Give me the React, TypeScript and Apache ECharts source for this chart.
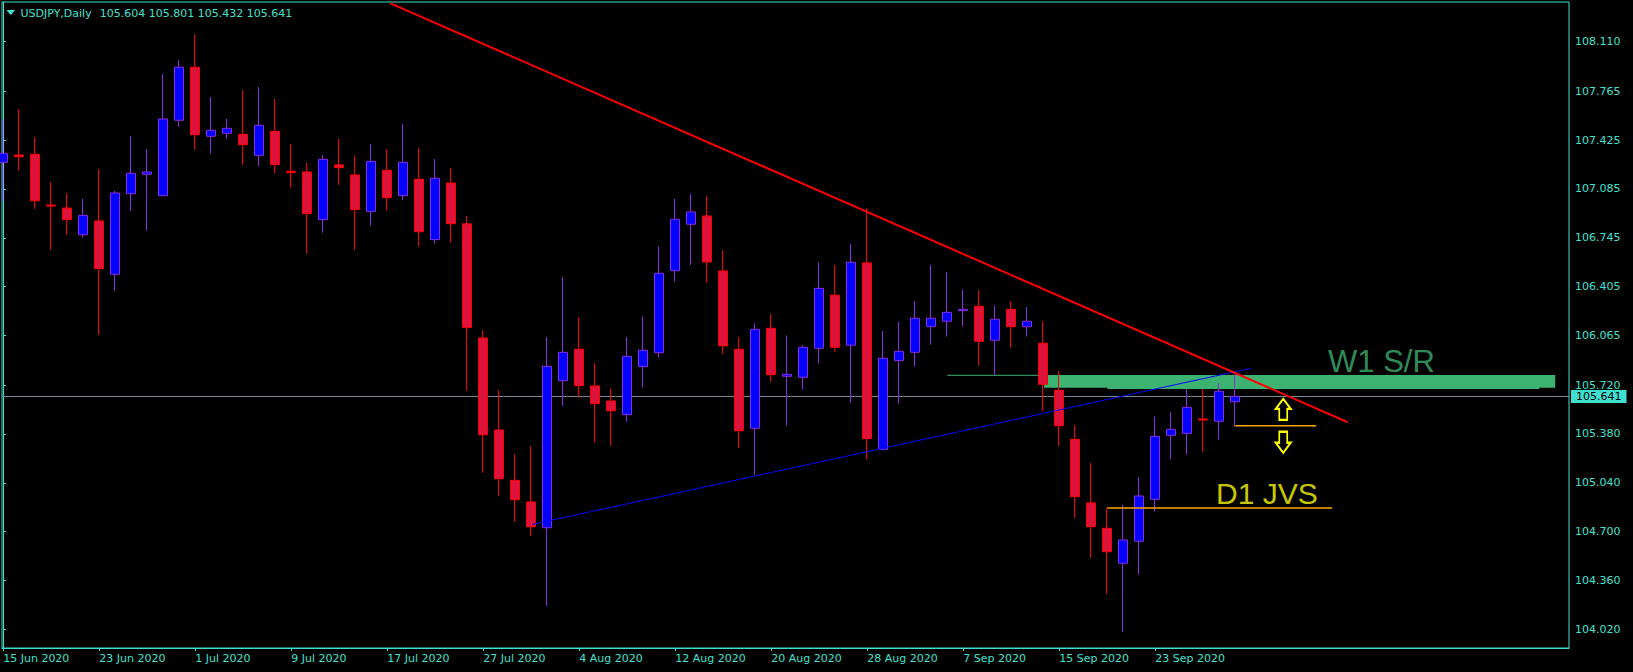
import React, { useEffect, useRef } from "react";
import * as echarts from "echarts";

// ---- data ----
const dates = [
  "15 Jun 2020", "16 Jun 2020", "17 Jun 2020", "18 Jun 2020", "19 Jun 2020",
  "22 Jun 2020", "23 Jun 2020", "24 Jun 2020", "25 Jun 2020", "26 Jun 2020",
  "29 Jun 2020", "30 Jun 2020",
  "1 Jul 2020", "2 Jul 2020", "3 Jul 2020", "6 Jul 2020", "7 Jul 2020", "8 Jul 2020",
  "9 Jul 2020", "10 Jul 2020", "13 Jul 2020", "14 Jul 2020", "15 Jul 2020", "16 Jul 2020",
  "17 Jul 2020", "20 Jul 2020", "21 Jul 2020", "22 Jul 2020", "23 Jul 2020", "24 Jul 2020",
  "27 Jul 2020", "28 Jul 2020", "29 Jul 2020", "30 Jul 2020", "31 Jul 2020",
  "3 Aug 2020", "4 Aug 2020", "5 Aug 2020", "6 Aug 2020", "7 Aug 2020", "10 Aug 2020",
  "11 Aug 2020", "12 Aug 2020", "13 Aug 2020", "14 Aug 2020", "17 Aug 2020", "18 Aug 2020",
  "19 Aug 2020", "20 Aug 2020", "21 Aug 2020", "24 Aug 2020", "25 Aug 2020", "26 Aug 2020",
  "27 Aug 2020", "28 Aug 2020", "31 Aug 2020",
  "1 Sep 2020", "2 Sep 2020", "3 Sep 2020", "4 Sep 2020", "7 Sep 2020", "8 Sep 2020",
  "9 Sep 2020", "10 Sep 2020", "11 Sep 2020", "14 Sep 2020", "15 Sep 2020", "16 Sep 2020",
  "17 Sep 2020", "18 Sep 2020", "21 Sep 2020", "22 Sep 2020", "23 Sep 2020", "24 Sep 2020",
  "25 Sep 2020", "28 Sep 2020", "29 Sep 2020", "30 Sep 2020",
];

const opens = [
  107.270, 107.321, 107.326, 106.973, 106.952, 106.766, 106.862, 106.491, 107.052, 107.187,
  107.038, 107.563, 107.932, 107.451, 107.472, 107.465, 107.319, 107.486, 107.208, 107.203,
  106.871, 107.252, 107.182, 106.929, 107.215, 107.038, 107.152, 106.732, 107.126, 106.842,
  106.047, 105.407, 105.057, 104.906, 104.727, 105.750, 105.969, 105.714, 105.609, 105.514,
  105.848, 105.945, 106.516, 106.839, 106.897, 106.514, 105.969, 105.419, 106.115, 105.781,
  105.774, 105.976, 106.345, 105.997, 106.570, 105.273, 105.890, 105.948, 106.126, 106.164,
  106.238, 106.268, 106.032, 106.247, 106.126, 106.011, 105.684, 105.342, 104.900, 104.723,
  104.480, 104.633, 104.925, 105.370, 105.384, 105.484, 105.468, 105.604,
];
const highs = [
  107.572, 107.641, 107.446, 107.133, 107.057, 107.015, 107.224, 107.071, 107.453, 107.363,
  107.885, 107.982, 108.163, 107.725, 107.572, 107.774, 107.794, 107.711, 107.398, 107.266,
  107.321, 107.433, 107.316, 107.398, 107.363, 107.537, 107.370, 107.293, 107.231, 106.897,
  106.103, 105.684, 105.240, 105.296, 106.054, 106.470, 106.192, 105.871, 105.697, 106.054,
  106.199, 106.688, 107.015, 107.050, 107.036, 106.660, 106.054, 106.150, 106.213, 106.066,
  105.997, 106.576, 106.556, 106.702, 106.950, 106.096, 106.159, 106.305, 106.556, 106.507,
  106.387, 106.382, 106.275, 106.305, 106.263, 106.166, 105.818, 105.442, 105.178, 104.864,
  104.885, 105.080, 105.500, 105.532, 105.693, 105.693, 105.734, 105.801,
];
const lows = [
  106.996, 107.212, 106.945, 106.660, 106.764, 106.746, 106.068, 106.377, 106.931, 106.794,
  107.036, 107.518, 107.358, 107.330, 107.435, 107.254, 107.243, 107.196, 107.094, 106.634,
  106.780, 107.112, 106.662, 106.829, 106.934, 107.008, 106.683, 106.704, 106.711, 105.679,
  105.110, 104.950, 104.769, 104.672, 104.184, 105.576, 105.632, 105.319, 105.298, 105.465,
  105.702, 105.910, 106.439, 106.556, 106.432, 105.938, 105.280, 105.094, 105.743, 105.437,
  105.688, 105.869, 105.952, 105.597, 105.203, 105.268, 105.590, 105.848, 106.001, 106.057,
  106.126, 105.855, 105.790, 105.980, 106.057, 105.539, 105.296, 104.797, 104.518, 104.266,
  104.000, 104.400, 104.841, 105.203, 105.235, 105.256, 105.340, 105.432,
];
const closes = [
  107.333, 107.309, 107.003, 106.966, 106.871, 106.901, 106.530, 107.057, 107.194, 107.203,
  107.572, 107.932, 107.462, 107.493, 107.507, 107.393, 107.528, 107.254, 107.198, 106.913,
  107.291, 107.233, 106.941, 107.277, 107.024, 107.270, 106.787, 107.159, 106.843, 106.120,
  105.374, 105.068, 104.922, 104.734, 105.850, 105.948, 105.716, 105.590, 105.541, 105.920,
  105.962, 106.498, 106.874, 106.925, 106.577, 105.994, 105.402, 106.108, 105.792, 105.795,
  105.983, 106.393, 105.983, 106.574, 105.347, 105.906, 105.955, 106.185, 106.185, 106.226,
  106.247, 106.025, 106.178, 106.126, 106.164, 105.725, 105.437, 104.943, 104.734, 104.560,
  104.642, 104.948, 105.363, 105.412, 105.565, 105.477, 105.677, 105.641,
];

const xTickDates = [
  "15 Jun 2020", "23 Jun 2020", "1 Jul 2020", "9 Jul 2020", "17 Jul 2020", "27 Jul 2020",
  "4 Aug 2020", "12 Aug 2020", "20 Aug 2020", "28 Aug 2020", "7 Sep 2020", "15 Sep 2020",
  "23 Sep 2020",
];
const yTickLabels = [
  "104.020", "104.360", "104.700", "105.040", "105.380", "105.720", "106.065",
  "106.405", "106.745", "107.085", "107.425", "107.765", "108.110",
];

// annotations (bar index, price)
const redTrend = [[24.2, 108.377], [84.03, 105.461]];
const blueTrend = [[33.06, 104.75], [77.99, 105.837]];
const srGuide = [[59.0, 105.788], [65.05, 105.788]];
const srZones = [
  [65.05, 97.0, 105.702, 105.79],
  [69.0, 96.0, 105.693, 105.79],
];
const jvsLine = [[69.0, 104.864], [83.06, 104.864]];
const lowLine = [[77.0, 105.437], [82.05, 105.437]];
const upArrow = [80.0, 105.551];
const downArrow = [80.0, 105.322];
const srLabel = { text: "W1 S/R", at: [82.8, 105.885] };
const jvsLabel = { text: "D1 JVS", at: [75.8, 104.967] };

const xRange = [-0.075, 97.86];
const yRange = [103.89, 108.386];

const FG = "#40E0D0";
const FONT = "DejaVu Sans";

export default function App() {
  const ref = useRef<HTMLDivElement>(null);

  useEffect(() => {
    document.body.style.margin = "0";
    document.body.style.background = "#000";
    const chart = echarts.init(ref.current!, null, { renderer: "svg" });
    const last = dates.length - 1;
    const xTickIdx = xTickDates.map((d) => dates.indexOf(d));
    const yTickVals = yTickLabels.map(Number);
    const titleValues = [opens[last], highs[last], lows[last], closes[last]]
      .map((v) => v.toFixed(3))
      .join(" ");

    const upPath = "path://M8.5,0 L17,11 L13,11 L13,23 L4,23 L4,11 L0,11 Z";
    const downPath = "path://M4,0 L13,0 L13,12 L17,12 L8.5,23 L0,12 L4,12 Z";

    const option: any = {
      animation: false,
      backgroundColor: "#000000",
      grid: {
        left: 2,
        top: 2,
        right: 64,
        bottom: 24,
        show: true,
        borderColor: FG,
        borderWidth: 1,
        backgroundColor: "transparent",
        outerBoundsMode: "none",
      },
      xAxis: {
        type: "value",
        min: xRange[0],
        max: xRange[1],
        splitLine: { show: false },
        axisLine: { show: true, lineStyle: { color: FG, width: 1 } },
        axisTick: { show: true, customValues: xTickIdx, length: 3, lineStyle: { color: FG } },
        axisLabel: {
          customValues: xTickIdx,
          formatter: (v: number) => dates[Math.round(v)] ?? "",
          color: FG,
          fontFamily: FONT,
          fontSize: 11,
          align: "left",
          margin: 5,
        },
      },
      yAxis: {
        type: "value",
        position: "right",
        min: yRange[0],
        max: yRange[1],
        splitLine: { show: false },
        axisLine: { show: true, lineStyle: { color: FG, width: 1 } },
        axisTick: { show: true, customValues: yTickVals, length: 3, lineStyle: { color: FG } },
        axisLabel: {
          customValues: yTickVals,
          formatter: (v: number) => v.toFixed(3),
          color: FG,
          fontFamily: FONT,
          fontSize: 11,
          margin: 6,
        },
      },
      graphic: [
        {
          type: "polygon",
          shape: { points: [[6.5, 10], [15, 10], [10.75, 15.3]] },
          style: { fill: FG },
        },
        {
          type: "text",
          x: 20.5,
          y: 13,
          style: { text: "USDJPY,Daily", fill: FG, fontSize: 11, fontFamily: FONT, verticalAlign: "middle" },
        },
        {
          type: "text",
          x: 99.8,
          y: 13,
          style: { text: titleValues, fill: FG, fontSize: 11, fontFamily: FONT, verticalAlign: "middle" },
        },
      ],
      series: [
        {
          type: "custom",
          z: 1,
          silent: true,
          data: srZones,
          encode: { x: [0, 1], y: [2, 3] },
          renderItem: (_p: any, api: any) => {
            const a = api.coord([api.value(0), api.value(3)]);
            const b = api.coord([api.value(1), api.value(2)]);
            return {
              type: "rect",
              shape: { x: a[0], y: a[1], width: b[0] - a[0], height: b[1] - a[1] },
              style: { fill: "#3CB371" },
            };
          },
        },
        {
          type: "line",
          z: 1,
          silent: true,
          data: srGuide,
          symbol: "none",
          lineStyle: { color: "#3CB371", width: 1 },
          markLine: {
            z: 1,
            silent: true,
            symbol: ["none", "none"],
            data: [{ yAxis: closes[last] }],
            lineStyle: { color: "#778899", width: 1, type: "solid" },
            label: {
              show: true,
              position: "end",
              formatter: closes[last].toFixed(3),
              color: "#000000",
              backgroundColor: FG,
              padding: [1, 5, 1, 5],
              fontFamily: FONT,
              fontSize: 11,
              distance: 2,
            },
            emphasis: { disabled: true },
          },
        },
        {
          type: "candlestick",
          z: 3,
          silent: true,
          barWidth: 10,
          data: dates.map((_, i) => [i, opens[i], closes[i], lows[i], highs[i]]),
          itemStyle: {
            color: "#0000FF",
            color0: "#DC143C",
            borderColor: "#8A2BE2",
            borderColor0: "#FF0000",
            borderWidth: 1,
          },
        },
        {
          type: "line",
          z: 4,
          silent: true,
          data: blueTrend,
          symbol: "none",
          lineStyle: { color: "#0000FF", width: 1 },
        },
        {
          type: "line",
          z: 4,
          silent: true,
          data: redTrend,
          symbol: "none",
          lineStyle: { color: "#FF0000", width: 2 },
        },
        {
          type: "line",
          z: 4,
          silent: true,
          data: jvsLine,
          symbol: "none",
          lineStyle: { color: "#FFA500", width: 1.5 },
        },
        {
          type: "line",
          z: 4,
          silent: true,
          data: lowLine,
          symbol: "none",
          lineStyle: { color: "#FFA500", width: 1.5 },
        },
        {
          type: "scatter",
          z: 5,
          silent: true,
          data: [
            { value: upArrow, symbol: upPath },
            { value: downArrow, symbol: downPath },
          ],
          symbolSize: [15, 21],
          itemStyle: { color: "#000000", borderColor: "#FFFF00", borderWidth: 2, opacity: 1 },
        },
        {
          type: "scatter",
          z: 5,
          silent: true,
          symbolSize: 0,
          data: [
            {
              value: srLabel.at,
              label: { formatter: srLabel.text, color: "#3CB371", fontSize: 31 },
            },
            {
              value: jvsLabel.at,
              label: { formatter: jvsLabel.text, color: "#FFFF00", fontSize: 30 },
            },
          ],
          label: {
            show: true,
            position: "right",
            distance: 0,
            fontFamily: "Liberation Sans",
          },
        },
      ],
    };

    chart.setOption(option);
    return () => chart.dispose();
  }, []);

  return (
    <div
      ref={ref}
      style={{ position: "absolute", left: 0, top: 0, width: 1633, height: 672, background: "#000" }}
    />
  );
}
